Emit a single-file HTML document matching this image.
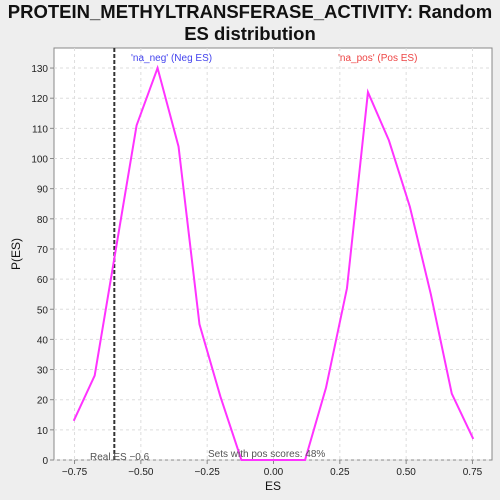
<!DOCTYPE html>
<html><head><meta charset="utf-8"><style>
html,body{margin:0;padding:0;width:500px;height:500px;overflow:hidden;background:#eeeeee;font-family:"Liberation Sans",sans-serif;}
svg{display:block;}
svg text{font-family:"Liberation Sans",sans-serif;}
</style></head><body>
<svg id="c" width="500" height="500">
<rect x="0" y="0" width="500" height="500" fill="#eeeeee"/>
<text x="250" y="18" text-anchor="middle" font-size="18.5" font-weight="bold" fill="#111">PROTEIN_METHYLTRANSFERASE_ACTIVITY: Random</text>
<text x="250" y="40" text-anchor="middle" font-size="18.5" font-weight="bold" fill="#111">ES distribution</text>
<rect x="54" y="48" width="438" height="412" fill="#fff" stroke="#888"/>
<g id="grid"></g><g id="axes"></g><g id="marks"></g>
<text x="20" y="254" transform="rotate(-90 20 254)" text-anchor="middle" font-size="12" fill="#111">P(ES)</text>
<text x="273" y="490" text-anchor="middle" font-size="12" fill="#111">ES</text>
<text x="131" y="61" font-size="10" fill="#4444ee">'na_neg' (Neg ES)</text>
<text x="338" y="61" font-size="10" fill="#ee4444">'na_pos' (Pos ES)</text>
<text x="90" y="460" font-size="10" fill="#555">Real ES −0.6</text>
<text x="208" y="457" font-size="10" fill="#555">Sets with pos scores: 48%</text>
</svg>
<script>
const esValues=[-0.753,-0.674,-0.516,-0.437,-0.358,-0.279,-0.2,-0.121,-0.04,0.04,0.119,0.198,0.277,0.356,0.435,0.514,0.593,0.672,0.753];
const pValues=[13,28,111,130,104,45,21,0,0,0,0,24,57,122,106,84,55,22,7];
const xTicks=[-0.75,-0.5,-0.25,0,0.25,0.5,0.75];
const xTickLabels=["−0.75","−0.50","−0.25","0.00","0.25","0.50","0.75"];
const yTicks=[0,10,20,30,40,50,60,70,80,90,100,110,120,130];
const realES=[-0.6];
const NS="http://www.w3.org/2000/svg";
function X(v){return 273.5+v*265.3;}
function Y(v){return 460-v*3.015;}
function mk(t,a,p){const e=document.createElementNS(NS,t);for(const k in a)e.setAttribute(k,a[k]);p.appendChild(e);return e;}
const g=document.getElementById('grid'),ax=document.getElementById('axes'),m=document.getElementById('marks');
xTicks.forEach((t,i)=>{
 const l=mk('line',{x1:X(t),x2:X(t),y1:48,y2:460,stroke:'#ddd','stroke-dasharray':'3,3'},g);
 
 
 const k=mk('line',{x1:X(t),x2:X(t),y1:460,y2:464,stroke:'#888'},ax);
 
 
 const tx=mk('text',{x:X(t),y:475,'text-anchor':'middle','font-size':'10',fill:'#222'},ax);
 tx.textContent=xTickLabels[i];
 
 
});
yTicks.forEach(t=>{
 const l=mk('line',{x1:54,x2:492,y1:Y(t),y2:Y(t),stroke:'#ddd','stroke-dasharray':'3,3'},g);
 
 
 const k=mk('line',{x1:50,x2:54,y1:Y(t),y2:Y(t),stroke:'#888'},ax);
 
 
 const tx=mk('text',{x:48,y:Y(t)+4,'text-anchor':'end','font-size':'10',fill:'#222'},ax);
 tx.textContent=t;
 
 
});
const rl=mk('line',{x1:X(realES[0]),x2:X(realES[0]),y1:48,y2:460,stroke:'#333','stroke-width':2,'stroke-dasharray':'4,2'},m);


const pl=mk('polyline',{points:esValues.map((v,i)=>X(v)+','+Y(pValues[i])).join(' '),fill:'none',stroke:'#ff33ff','stroke-width':2},m);


</script>
</body></html>
